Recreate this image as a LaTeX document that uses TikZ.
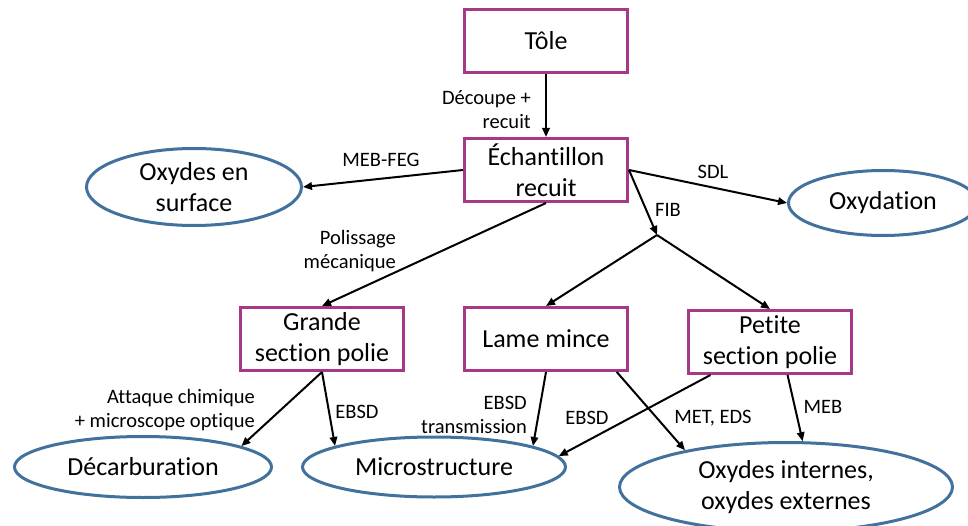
\documentclass[tikz,border=0pt]{standalone}
\usepackage{fontspec}
\setmainfont{Carlito}[Ligatures=NoCommon]
\usepackage{tikz}
\usetikzlibrary{arrows.meta,shapes.geometric}
\definecolor{boxpurple}{RGB}{166,57,135}
\definecolor{ovalblue}{RGB}{65,113,156}

\begin{document}
\begin{tikzpicture}[x=1pt,y=-1pt,>={Triangle[length=9pt,width=7.5pt]},
  stepbox/.style={draw=boxpurple,line width=3pt,minimum width=163pt,minimum height=63pt,inner sep=0pt,align=center,font=\fontsize{26}{31}\selectfont},
  result/.style={draw=ovalblue,line width=3pt,ellipse,inner sep=-4pt,align=center,font=\fontsize{26}{31}\selectfont},
  lbl/.style={font=\fontsize{20.5}{24}\selectfont,align=center,inner sep=0pt},
  link/.style={->,line width=2pt}]
\useasboundingbox (0,0) rectangle (968,526);
% process steps
\node[stepbox] (tole) at (546,41) {Tôle};
\node[stepbox] (ech) at (546,170) {Échantillon\\recuit};
\node[stepbox] (grande) at (322,339) {Grande\\section polie};
\node[stepbox] (lame) at (546,339) {Lame mince};
\node[stepbox] (petite) at (770,342) {Petite\\section polie};
\coordinate (fib) at (657,235);
% results
\node[result,minimum width=215pt,minimum height=77pt] (surf) at (194,187) {Oxydes en\\surface};
\node[result,minimum width=189pt,minimum height=65pt] (oxyd) at (883,203) {Oxydation};
\node[result,minimum width=257pt,minimum height=61pt] (decarb) at (143,467) {Décarburation};
\node[result,minimum width=263pt,minimum height=60pt] (micro) at (434,467) {Microstructure};
\node[result,minimum width=333pt,minimum height=89pt] (oxint) at (786,487) {Oxydes internes,\\oxydes externes};
% connectors
\draw[link] (tole) -- (ech);
\draw[link] (ech.west) -- (surf.east);
\draw[link] (ech.east) -- (oxyd.west);
\draw[link] (ech.east) -- (fib);
\draw[link] (fib) -- (lame.north);
\draw[link] (fib) -- (petite.north);
\draw[link] (ech.south) -- (grande.north);
\draw[link] (grande.south) -- (decarb.12);
\draw[link] (grande.south) -- (micro.168);
\draw[link] (lame.south) -- (micro.12);
\draw[link] (lame.-25) -- (oxint.160);
\draw[link] (petite.-151) -- (micro.5);
\draw[link] (petite.-62) -- (oxint.70);
% labels
\node[lbl,anchor=east,align=right] (cutlbl) at (531,110) {Découpe +\\recuit};
\node[lbl] (meblbl) at (381,160) {MEB-FEG};
\node[lbl] (sdllbl) at (713,172) {SDL};
\node[lbl] (fiblbl) at (668,210) {FIB};
\node[lbl,anchor=east,align=right] (pollbl) at (396,251) {Polissage\\mécanique};
\node[lbl,anchor=east,align=right] (attlbl) at (255,410) {Attaque chimique\\+ microscope optique};
\node[lbl] (ebsdgr) at (357,412) {EBSD};
\node[lbl,anchor=east,align=right] (ebsdlm) at (527,415) {EBSD\\transmission};
\node[lbl] (ebsdpt) at (587,418) {EBSD};
\node[lbl] (metlbl) at (713,418) {MET, EDS};
\node[lbl] (meblbl2) at (823,407) {MEB};
\end{tikzpicture}
\end{document}
